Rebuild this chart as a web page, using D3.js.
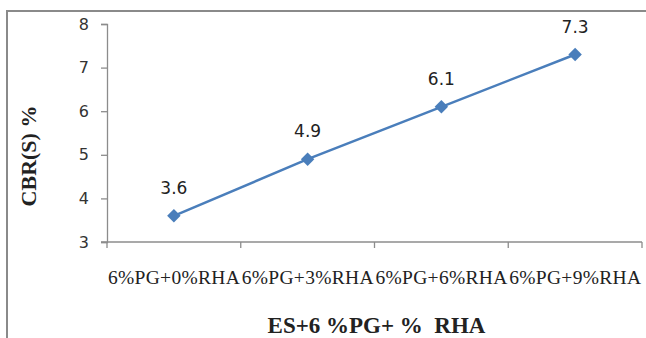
<!DOCTYPE html>
<html>
<head>
<meta charset="utf-8">
<script src="https://cdn.jsdelivr.net/npm/d3@7"></script>
<style>
  html, body { margin: 0; padding: 0; background: #fff; }
  svg { display: block; }
</style>
</head>
<body>
<svg id="chart" width="646" height="338"></svg>
<script>
// CBR(S) values for each PG + RHA mix
const categories = ["6%PG+0%RHA", "6%PG+3%RHA", "6%PG+6%RHA", "6%PG+9%RHA"];
const cbrValues = [3.6, 4.9, 6.1, 7.3];
const yTicks = [3, 4, 5, 6, 7, 8];
const xTitle = "ES+6 %PG+ %  RHA";
const yTitle = "CBR(S) %";

const svg = d3.select("#chart");
const plot = { left: 107, right: 642, top: 24, bottom: 242 };
const axisColor = "#8c8c8c";
const lineColor = "#4a7ebb";

// outer frame (only left and top edges fall inside the view)
svg.append("rect")
  .attr("x", 7).attr("y", 11)
  .attr("width", 700).attr("height", 400)
  .attr("fill", "none")
  .attr("stroke", "#8a8a8a")
  .attr("stroke-width", 2);

const x = d3.scaleBand().domain(categories).range([plot.left, plot.right]);
const y = d3.scaleLinear().domain([3, 8]).range([plot.bottom, plot.top]);

// y axis
const yAxis = svg.append("g")
  .attr("transform", `translate(${plot.left},0)`)
  .call(d3.axisLeft(y).tickValues(yTicks).tickSize(6).tickPadding(12).tickFormat(d3.format("d")));
yAxis.select(".domain").attr("stroke", axisColor).attr("stroke-width", 1.3);
yAxis.selectAll(".tick line").attr("stroke", axisColor).attr("stroke-width", 1.3);
yAxis.selectAll(".tick text")
  .attr("fill", "#333")
  .style("font-family", "'DejaVu Sans', Verdana, sans-serif")
  .style("font-size", "16px");

// x axis: ticks on category boundaries
const xAxis = svg.append("g")
  .attr("transform", `translate(0,${plot.bottom})`);
xAxis.append("line")
  .attr("x1", plot.left - 6).attr("x2", plot.right)
  .attr("stroke", axisColor).attr("stroke-width", 1.3);
const bounds = [plot.left].concat(categories.map(c => x(c) + x.bandwidth()));
xAxis.selectAll(".bound")
  .data(bounds)
  .join("line")
  .attr("class", "bound")
  .attr("x1", d => d).attr("x2", d => d)
  .attr("y1", 0).attr("y2", 6)
  .attr("stroke", axisColor).attr("stroke-width", 1.3);
xAxis.selectAll(".cat")
  .data(categories)
  .join("text")
  .attr("class", "cat")
  .attr("x", d => x(d) + x.bandwidth() / 2)
  .attr("y", 42)
  .attr("text-anchor", "middle")
  .attr("textLength", x.bandwidth() - 2)
  .attr("lengthAdjust", "spacing")
  .attr("fill", "#222")
  .style("font-family", "'Liberation Serif', 'Times New Roman', serif")
  .style("font-size", "19.5px")
  .text(d => d);

// axis titles
svg.append("text")
  .attr("x", (plot.left + plot.right) / 2 + 2)
  .attr("y", 333)
  .attr("text-anchor", "middle")
  .attr("fill", "#222")
  .style("font-family", "'Liberation Serif', 'Times New Roman', serif")
  .style("font-size", "23px")
  .style("font-weight", "bold")
  .attr("xml:space", "preserve")
  .text(xTitle);

svg.append("text")
  .attr("transform", "translate(36,156) rotate(-90)")
  .attr("text-anchor", "middle")
  .attr("fill", "#222")
  .style("font-family", "'Liberation Serif', 'Times New Roman', serif")
  .style("font-size", "22px")
  .style("font-weight", "bold")
  .text(yTitle);

// series
const pts = categories.map((c, i) => ({ c, v: cbrValues[i] }));
const cx = d => x(d.c) + x.bandwidth() / 2;

svg.append("path")
  .datum(pts)
  .attr("fill", "none")
  .attr("stroke", lineColor)
  .attr("stroke-width", 2.5)
  .attr("d", d3.line().x(cx).y(d => y(d.v)));

svg.selectAll(".mk")
  .data(pts)
  .join("path")
  .attr("class", "mk")
  .attr("transform", d => `translate(${cx(d)},${y(d.v)})`)
  .attr("d", d3.symbol(d3.symbolDiamond2, 115)())
  .attr("fill", lineColor);

svg.selectAll(".lbl")
  .data(pts)
  .join("text")
  .attr("class", "lbl")
  .attr("x", cx)
  .attr("y", d => y(d.v) - 22)
  .attr("text-anchor", "middle")
  .attr("fill", "#222")
  .style("font-family", "'DejaVu Sans', Verdana, sans-serif")
  .style("font-size", "17px")
  .text(d => d3.format(".1f")(d.v));
</script>
</body>
</html>
